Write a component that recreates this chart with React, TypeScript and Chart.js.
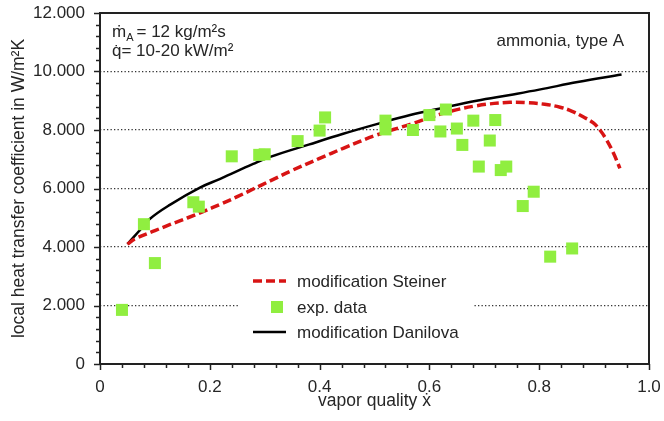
import React, { useEffect, useRef } from "react";
import { Chart, registerables } from "chart.js";

Chart.register(...registerables);

// ---- data ----
const expQuality = [0.04, 0.08, 0.10, 0.17, 0.18, 0.24, 0.29, 0.30, 0.36, 0.40, 0.41, 0.52, 0.52, 0.57, 0.60, 0.62, 0.63, 0.65, 0.66, 0.68, 0.69, 0.71, 0.72, 0.73, 0.74, 0.77, 0.79, 0.82, 0.86];
const expHtc = [1850, 4780, 3450, 5530, 5380, 7100, 7150, 7170, 7620, 7980, 8430, 8320, 8020, 8000, 8510, 7950, 8700, 8050, 7490, 8320, 6750, 7640, 8340, 6630, 6750, 5400, 5890, 3670, 3950];

const steinerQuality = [0.05, 0.064, 0.1, 0.128, 0.16, 0.19, 0.219, 0.25, 0.28, 0.31, 0.35, 0.4, 0.443, 0.504, 0.565, 0.625, 0.686, 0.747, 0.777, 0.81, 0.838, 0.86, 0.88, 0.898, 0.911, 0.923, 0.935, 0.947];
const steinerHtc = [4100, 4280, 4560, 4770, 5000, 5230, 5460, 5720, 5990, 6260, 6620, 7030, 7374, 7830, 8195, 8570, 8830, 8945, 8935, 8880, 8780, 8640, 8450, 8250, 7990, 7650, 7220, 6690];

const danilovaQuality = [0.05, 0.07, 0.09, 0.128, 0.182, 0.219, 0.279, 0.31, 0.38, 0.443, 0.504, 0.565, 0.625, 0.686, 0.747, 0.8, 0.87, 0.95];
const danilovaHtc = [4100, 4520, 4950, 5450, 6030, 6330, 6840, 7080, 7500, 7870, 8200, 8510, 8760, 9000, 9200, 9380, 9640, 9900];

const xTickValues = [0, 0.2, 0.4, 0.6, 0.8, 1.0];
const xTickLabels = ["0", "0.2", "0.4", "0.6", "0.8", "1.0"];
const yTickValues = [0, 2000, 4000, 6000, 8000, 10000, 12000];
const yTickLabels = ["0", "2.000", "4.000", "6.000", "8.000", "10.000", "12.000"];

const seriesLabels = ["modification Steiner", "exp. data", "modification Danilova"];

const FONT = '"Liberation Sans", Arial, sans-serif';
const TEXT = "#262626";
const GREEN = "#90ee40";
const RED = "#d81414";

const decorPlugin = {
  id: "decor",
  afterDatasetsDraw(chart: any) {
    const { ctx, chartArea: a, scales } = chart;
    const x = scales.x;
    const y = scales.y;
    ctx.save();
    // ticks (major + minor), outward
    ctx.strokeStyle = "#222";
    ctx.lineWidth = 1.5;
    for (let i = 0; i <= 25; i++) {
      const px = Math.round(x.getPixelForValue(i * 0.04)) + 0.5;
      const len = i % 5 === 0 ? 6 : 4;
      ctx.beginPath();
      ctx.moveTo(px, a.bottom);
      ctx.lineTo(px, a.bottom + len);
      ctx.stroke();
    }
    for (let i = 0; i <= 30; i++) {
      const py = Math.round(y.getPixelForValue(i * 400)) + 0.5;
      const len = i % 5 === 0 ? 6 : 4;
      ctx.beginPath();
      ctx.moveTo(a.left, py);
      ctx.lineTo(a.left - len, py);
      ctx.stroke();
    }
    // frame
    ctx.lineWidth = 2;
    ctx.strokeRect(a.left, a.top, a.right - a.left, a.bottom - a.top);

    // legend box
    ctx.fillStyle = "#fff";
    ctx.fillRect(238, 266, 236, 78);
    const rows = [281, 307, 332];
    const ds = chart.data.datasets;
    ctx.font = "17px " + FONT;
    ctx.textBaseline = "middle";
    ctx.textAlign = "left";
    ds.forEach((d: any, i: number) => {
      const ry = rows[i];
      if (d.showLine === false) {
        ctx.fillStyle = d.backgroundColor;
        ctx.fillRect(271, ry - 6, 12, 12);
      } else {
        ctx.strokeStyle = d.borderColor;
        ctx.lineWidth = d.borderWidth;
        ctx.setLineDash(d.borderDash || []);
        ctx.beginPath();
        ctx.moveTo(253, ry);
        ctx.lineTo(286, ry);
        ctx.stroke();
        ctx.setLineDash([]);
      }
      ctx.fillStyle = TEXT;
      ctx.fillText(d.label, 297, ry + 1);
    });

    // annotations
    ctx.fillStyle = TEXT;
    ctx.textBaseline = "alphabetic";
    ctx.font = "17px " + FONT;
    let tx = 112;
    ctx.fillText("m\u0307", tx, 37);
    tx += ctx.measureText("m").width;
    ctx.font = "11px " + FONT;
    ctx.fillText("A", tx, 41);
    tx += ctx.measureText("A").width;
    ctx.font = "17px " + FONT;
    ctx.fillText("= 12 kg/m\u00B2s", tx + 3, 37);
    ctx.fillText("q\u0307= 10-20 kW/m\u00B2", 112, 56);
    ctx.textAlign = "right";
    ctx.fillText("ammonia, type A", 624, 46);
    ctx.restore();
  },
};

export default function App() {
  const ref = useRef<HTMLCanvasElement | null>(null);
  useEffect(() => {
    if (!ref.current) return;
    const chart = new Chart(ref.current, {
      type: "scatter",
      data: {
        datasets: [
          {
            label: seriesLabels[0],
            data: steinerQuality.map((q, i) => ({ x: q, y: steinerHtc[i] })),
            showLine: true,
            borderColor: RED,
            borderWidth: 3.5,
            borderDash: [9, 4],
            pointRadius: 0,
            tension: 0.4,
            order: 1,
          },
          {
            label: seriesLabels[1],
            data: expQuality.map((q, i) => ({ x: q, y: expHtc[i] })),
            showLine: false,
            pointStyle: "rect",
            pointRadius: 8.5,
            pointBorderWidth: 0,
            borderWidth: 0,
            backgroundColor: GREEN,
            pointBackgroundColor: GREEN,
            order: 0,
          },
          {
            label: seriesLabels[2],
            data: danilovaQuality.map((q, i) => ({ x: q, y: danilovaHtc[i] })),
            showLine: true,
            borderColor: "#000",
            borderWidth: 2.5,
            pointRadius: 0,
            tension: 0.4,
            order: 2,
          },
        ],
      } as any,
      options: {
        animation: false,
        responsive: true,
        maintainAspectRatio: false,
        layout: { padding: { top: 13, right: 15, left: 0, bottom: 0 } },
        plugins: { legend: { display: false }, tooltip: { enabled: false } },
        scales: {
          x: {
            type: "linear",
            min: 0,
            max: 1,
            afterFit: (s: any) => { s.height = 57; s.paddingLeft = 0; s.paddingRight = 0; },
            afterBuildTicks: (s: any) => { s.ticks = xTickValues.map((v) => ({ value: v })); },
            ticks: {
              padding: 13,
              color: TEXT,
              font: { family: FONT, size: 17 },
              callback: (v: any) => { const i = xTickValues.findIndex((t) => Math.abs(t - v) < 1e-9); return i >= 0 ? xTickLabels[i] : ""; },
            },
            grid: { display: false, drawTicks: false },
            border: { display: false },
            title: { display: true, text: "vapor quality \u1E8B", color: TEXT, font: { family: FONT, size: 17.5 }, padding: { top: 0, bottom: 9 } },
          },
          y: {
            type: "linear",
            min: 0,
            max: 12000,
            afterFit: (s: any) => { s.width = 100; s.paddingTop = 0; s.paddingBottom = 0; },
            afterBuildTicks: (s: any) => { s.ticks = yTickValues.map((v) => ({ value: v })); },
            ticks: {
              padding: 15,
              color: TEXT,
              font: { family: FONT, size: 17 },
              callback: (v: any) => { const i = yTickValues.indexOf(v); return i >= 0 ? yTickLabels[i] : ""; },
            },
            grid: {
              drawTicks: false,
              lineWidth: 1.3,
              color: (c: any) => (c.tick && (c.tick.value === 0 || c.tick.value === 12000) ? "rgba(0,0,0,0)" : "#333"),
            },
            border: { display: false, dash: [1.3, 2.2] },
            title: { display: true, text: "local heat transfer coefficient in W/m\u00B2K", color: TEXT, font: { family: FONT, size: 17.5 }, padding: { top: 9, bottom: 0 } },
          },
        },
      } as any,
      plugins: [decorPlugin],
    });
    return () => chart.destroy();
  }, []);
  return (
    <div style={{ position: "absolute", left: 0, top: 0, width: 664, height: 421, background: "#fff" }}>
      <canvas ref={ref} />
    </div>
  );
}
